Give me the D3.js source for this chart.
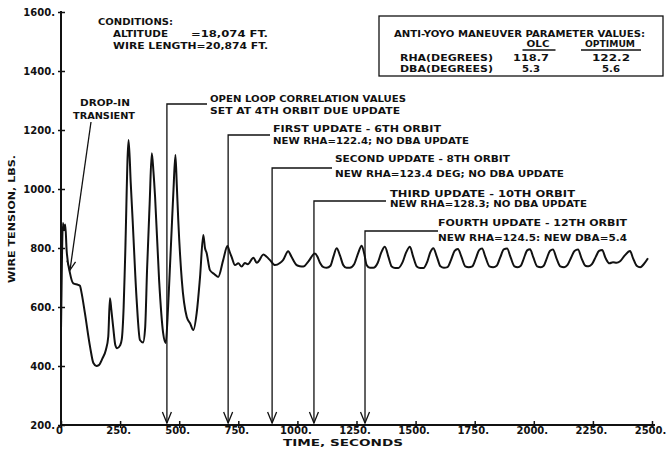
<!DOCTYPE html>
<html><head><meta charset="utf-8">
<script src="https://cdn.jsdelivr.net/npm/d3@7"></script>
<style>
html,body{margin:0;padding:0;background:#fff;}
svg text{font-family:"DejaVu Sans",sans-serif;font-weight:bold;fill:#111;}
</style></head>
<body>
<svg id="chart" width="666" height="452"></svg>
<script>
// ---- data ----
const timeSec = [0,4,8,13,18,24,38,52,72,80,87,101,123,137,150,160,175,190,200,207,213,221,230,237,250,257,265,271,286,295,303,320,334,347,356,364,375,384,391,398,415,432,443,453,460,468,476,484,490,496,511,532,546,560,574,588,602,609,616,630,648,665,686,704,712,722,736,750,764,778,790,814,828,835,856,870,884,905,926,940,961,975,997,1010,1025,1046,1074,1085,1096,1110,1124,1140,1152,1166,1180,1194,1208,1222,1240,1256,1272,1283,1293,1307,1321,1340,1355,1370,1385,1399,1413,1427,1445,1460,1476,1490,1505,1519,1533,1550,1562,1575,1590,1605,1620,1635,1650,1665,1679,1694,1710,1725,1740,1755,1768,1781,1796,1812,1828,1843,1858,1873,1887,1902,1918,1932,1945,1958,1972,1984,1998,2014,2030,2042,2055,2068,2081,2096,2112,2128,2142,2158,2172,2187,2202,2218,2232,2246,2262,2276,2289,2304,2320,2335,2350,2365,2385,2407,2420,2435,2450,2465,2483];
const tensionLbs = [520,760,885,860,880,790,715,680,675,672,648,580,465,410,400,403,425,455,500,630,590,530,470,460,470,490,600,760,1166,1020,895,624,488,480,530,725,950,1121,1060,973,691,512,478,600,720,861,1000,1115,1010,895,691,566,545,522,580,700,844,800,783,725,712,702,759,807,790,769,742,748,737,749,745,767,750,754,778,770,759,742,749,760,789,770,742,738,737,754,781,770,749,735,733,740,770,799,775,742,733,733,745,780,808,780,742,733,733,750,785,804,770,737,732,732,752,785,804,770,737,732,732,755,785,799,770,738,733,735,760,790,797,770,738,735,738,765,792,798,768,738,735,740,768,795,798,768,738,735,740,765,792,796,768,738,735,740,765,790,795,765,738,735,742,768,790,795,765,740,738,745,770,790,793,765,748,752,750,755,775,790,765,740,735,745,765];

const xTickValues = [0,250,500,750,1000,1250,1500,1750,2000,2250,2500];
const xTickLabels = ["0","250.","500.","750.","1000.","1250.","1500.","1750.","2000.","2250.","2500."];
const yTickValues = [200,400,600,800,1000,1200,1400,1600];
const yTickLabels = ["200.","400.","600.","800.","1000.","1200.","1400.","1600."];

const updateTimes = [448,707,893,1070,1286];
const updateTexts = [
  ["OPEN LOOP CORRELATION VALUES","SET AT 4TH ORBIT DUE UPDATE"],
  ["FIRST UPDATE - 6TH ORBIT","NEW RHA=122.4; NO DBA UPDATE"],
  ["SECOND UPDATE - 8TH ORBIT","NEW RHA=123.4 DEG; NO DBA UPDATE"],
  ["THIRD UPDATE - 10TH ORBIT","NEW RHA=128.3; NO DBA UPDATE"],
  ["FOURTH UPDATE - 12TH ORBIT","NEW RHA=124.5: NEW DBA=5.4"]
];
const dropInTip = [38,725];
const dropInText = ["DROP-IN","TRANSIENT"];
const conditionTexts = ["CONDITIONS:","ALTITUDE","=18,074 FT.","WIRE LENGTH=20,874 FT."];
const tableTitle = "ANTI-YOYO MANEUVER PARAMETER VALUES:";
const tableColumns = ["OLC","OPTIMUM"];
const tableRows = ["RHA(DEGREES)","DBA(DEGREES)"];
const olcValues = ["118.7","5.3"];
const optimumValues = ["122.2","5.6"];
const xTitle = "TIME, SECONDS";
const yTitle = "WIRE TENSION, LBS.";

// ---- drawing ----
const svg = d3.select("#chart");
const x = d3.scaleLinear().domain([0,2500]).range([61,652]);
const y = d3.scaleLinear().domain([200,1600]).range([425,12]);
const FS = 9.5;

function txt(s, tx, ty, w, opts={}) {
  const t = svg.append("text").attr("x",tx).attr("y",ty).text(s)
    .style("font-size",(opts.fs||FS)+"px");
  if (w) t.attr("textLength",w).attr("lengthAdjust","spacingAndGlyphs");
  if (opts.anchor) t.attr("text-anchor",opts.anchor);
  return t;
}

// axes
const xAxis = d3.axisBottom(x).tickValues(xTickValues).tickSize(0).tickFormat((d,i)=>xTickLabels[i]);
const gx = svg.append("g").attr("transform","translate(0,425)").call(xAxis);
gx.select(".domain").attr("stroke","#111").attr("stroke-width",2).attr("d","M61,0H655");
gx.selectAll(".tick text").attr("dy",null).attr("y",9).attr("x",-2)
  .style("font-size","10px").style("font-family","DejaVu Sans").style("font-weight","bold");
gx.selectAll(".tick").append("line").attr("y1",-4).attr("y2",3).attr("stroke","#111").attr("stroke-width",1.5);

const yAxis = d3.axisLeft(y).tickValues(yTickValues).tickSize(0).tickFormat((d,i)=>yTickLabels[i]);
const gy = svg.append("g").attr("transform","translate(61,0)").call(yAxis);
gy.select(".domain").attr("stroke","#111").attr("stroke-width",2).attr("d","M0,425V11");
gy.selectAll(".tick text").attr("x",-6).attr("dy","0.36em")
  .style("font-size","10px").style("font-family","DejaVu Sans").style("font-weight","bold");
gy.selectAll(".tick").append("line").attr("x1",-3).attr("x2",4).attr("stroke","#111").attr("stroke-width",1.5);

// axis titles
txt(xTitle, 283, 445.5, 120);
svg.append("text").attr("transform","translate(14.5,219) rotate(-90)")
  .attr("text-anchor","middle").attr("textLength",128).attr("lengthAdjust","spacingAndGlyphs")
  .style("font-size",FS+"px").text(yTitle);

// curve
const pts = timeSec.map((t,i)=>[t,tensionLbs[i]]);
const line = d3.line().x(d=>x(d[0])).y(d=>y(d[1])).curve(d3.curveMonotoneX);
svg.append("path").datum(pts).attr("d",line).attr("fill","none")
  .attr("stroke","#111").attr("stroke-width",2).attr("stroke-linejoin","round");

// update arrows
const hY = [104,135,168,201,231];
const hEnd = [207,270,332,386,438];
const tX = [210,273,335,390,438];
const tY = [[101.5,113.5],[131.5,143.5],[161.5,176.5],[196.5,206.5],[225.5,240.5]];
const tW = [[196,190],[168,196],[175,229],[185,197],[189,189]];
const tipY = 423;
updateTimes.forEach((t,i)=>{
  const vx = x(t);
  svg.append("path").attr("d",`M${hEnd[i]},${hY[i]}H${vx}V${tipY}`)
    .attr("fill","none").attr("stroke","#111").attr("stroke-width",1.3);
  svg.append("path").attr("d",`M${vx-4.5},${tipY-11}L${vx},${tipY}L${vx+4.5},${tipY-11}`)
    .attr("fill","none").attr("stroke","#111").attr("stroke-width",1.3);
  txt(updateTexts[i][0], tX[i], tY[i][0], tW[i][0]);
  txt(updateTexts[i][1], tX[i], tY[i][1], tW[i][1]);
});

// drop-in transient
const tipPx = [x(dropInTip[0]), y(dropInTip[1])];
const startPx = [91,122];
svg.append("line").attr("x1",startPx[0]).attr("y1",startPx[1]).attr("x2",tipPx[0]).attr("y2",tipPx[1])
  .attr("stroke","#111").attr("stroke-width",1.3);
{
  const ang = Math.atan2(tipPx[1]-startPx[1], tipPx[0]-startPx[0]);
  const L = 10, spread = 0.45;
  const a1 = [tipPx[0]-L*Math.cos(ang-spread), tipPx[1]-L*Math.sin(ang-spread)];
  const a2 = [tipPx[0]-L*Math.cos(ang+spread), tipPx[1]-L*Math.sin(ang+spread)];
  svg.append("path").attr("d",`M${a1}L${tipPx}L${a2}`).attr("fill","none")
    .attr("stroke","#111").attr("stroke-width",1.3);
}
txt(dropInText[0], 80, 105.5, 50);
txt(dropInText[1], 73, 118.5, 62);

// conditions
txt(conditionTexts[0], 98, 24.5, 75);
txt(conditionTexts[1], 113, 36.5, 55);
txt(conditionTexts[2], 191, 36.5, 77);
txt(conditionTexts[3], 113, 48.5, 155);

// table box
svg.append("rect").attr("x",379).attr("y",16).attr("width",284).attr("height",60)
  .attr("fill","none").attr("stroke","#111").attr("stroke-width",1.3);
txt(tableTitle, 394, 37, 251);
const colX = [538,610];
const colW = [23,50];
tableColumns.forEach((c,i)=>{
  txt(c, colX[i], 46.5, colW[i], {anchor:"middle"});
  svg.append("line").attr("x1",colX[i]-colW[i]/2-4).attr("x2",colX[i]+colW[i]/2+6)
    .attr("y1",50).attr("y2",50).attr("stroke","#111").attr("stroke-width",1.3);
});
tableRows.forEach((r,i)=>{
  const by = 60.5 + i*11;
  txt(r, 400, by, 93);
  txt(olcValues[i], 531, by, olcValues[i].length>3?36:18, {anchor:"middle"});
  txt(optimumValues[i], 611, by, optimumValues[i].length>3?38:18, {anchor:"middle"});
});
</script>
</body></html>
